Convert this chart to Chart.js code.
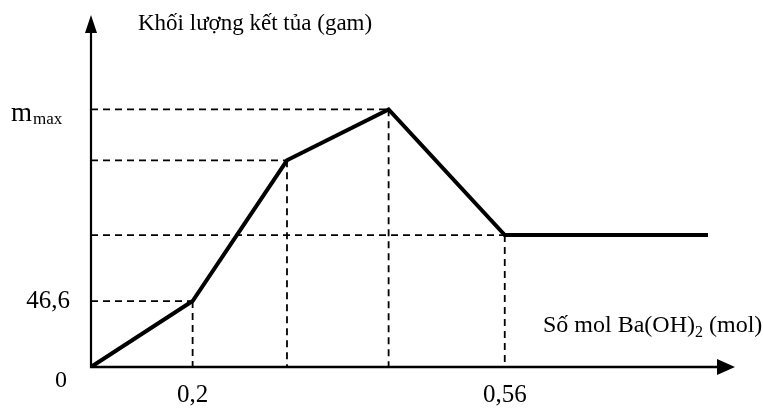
<!DOCTYPE html>
<html>
<head>
<meta charset="utf-8">
<script src="https://cdn.jsdelivr.net/npm/chart.js@4"></script>
<style>
  html, body { margin: 0; padding: 0; background: #fff; }
  canvas { display: block; }
</style>
</head>
<body>
<canvas id="c" width="763" height="409"></canvas>
<script>
// Mass of precipitate (g) at each break point of the curve
const mass = [0, 46.6, 146, 182, 93.2, 93.2];
// Mol Ba(OH)2 label printed under each break point ('' = not labelled)
const molLabels = ['', '0,2', '', '', '0,56', ''];
// Where each break point sits along the (not-to-scale) mol axis
const axisStep = [0, 14, 27, 41, 57, 85];
// Break points that get dashed guide lines to both axes
const guided = [1, 2, 3, 4];

const yTitle = 'Khối lượng kết tủa (gam)';
const xTitle = ['Số mol Ba(OH)', '2', ' (mol)'];
const peakLabel = ['m', 'max'];
const originLabel = '0';
const yTickValues = [46.6];
const yTickLabels = ['46,6'];

const FONT = '"Liberation Serif", "Times New Roman", serif';

const points = mass.map((m, i) => ({ x: axisStep[i], y: m }));
const xTicks = axisStep.filter((_, i) => molLabels[i] !== '');
const xTickText = molLabels.filter(l => l !== '');
const peakIndex = mass.indexOf(Math.max(...mass));

const guides = {
  id: 'guides',
  beforeDatasetsDraw(chart) {
    const { ctx, chartArea } = chart;
    const pts = chart.getDatasetMeta(0).data;
    ctx.save();
    ctx.strokeStyle = '#000';
    ctx.lineWidth = 1.8;
    ctx.setLineDash([7, 5]);
    guided.forEach(i => {
      const p = pts[i];
      ctx.beginPath();
      ctx.moveTo(chartArea.left, p.y);
      ctx.lineTo(p.x, p.y);
      ctx.moveTo(p.x, p.y);
      ctx.lineTo(p.x, chartArea.bottom);
      ctx.stroke();
    });
    ctx.restore();
  }
};

const axesAndText = {
  id: 'axesAndText',
  afterDatasetsDraw(chart) {
    const { ctx, chartArea } = chart;
    const x0 = chartArea.left, y0 = chartArea.bottom;
    ctx.save();
    ctx.fillStyle = '#000';
    ctx.strokeStyle = '#000';
    ctx.setLineDash([]);

    // vertical axis with arrow
    ctx.lineWidth = 2.2;
    ctx.beginPath();
    ctx.moveTo(x0, y0 + 1);
    ctx.lineTo(x0, 31);
    ctx.stroke();
    ctx.beginPath();
    ctx.moveTo(x0, 15);
    ctx.lineTo(x0 - 6, 33);
    ctx.lineTo(x0 + 6, 33);
    ctx.closePath();
    ctx.fill();

    // horizontal axis with arrow
    ctx.lineWidth = 2.6;
    ctx.beginPath();
    ctx.moveTo(x0 - 1, y0);
    ctx.lineTo(720, y0);
    ctx.stroke();
    ctx.beginPath();
    ctx.moveTo(735, y0);
    ctx.lineTo(717, y0 - 8);
    ctx.lineTo(717, y0 + 8);
    ctx.closePath();
    ctx.fill();

    // axis titles
    ctx.textBaseline = 'alphabetic';
    ctx.textAlign = 'left';
    ctx.font = '23px ' + FONT;
    ctx.fillText(yTitle, 138, 30);

    let tx = 543;
    ctx.font = '24px ' + FONT;
    ctx.fillText(xTitle[0], tx, 332);
    tx += ctx.measureText(xTitle[0]).width;
    ctx.font = '16px ' + FONT;
    ctx.fillText(xTitle[1], tx, 337);
    tx += ctx.measureText(xTitle[1]).width;
    ctx.font = '24px ' + FONT;
    ctx.fillText(xTitle[2], tx, 332);

    // peak label m_max
    const py = chart.scales.y.getPixelForValue(mass[peakIndex]);
    ctx.font = '27px ' + FONT;
    ctx.fillText(peakLabel[0], 11, py + 12);
    const mw = ctx.measureText(peakLabel[0]).width;
    ctx.font = '17px ' + FONT;
    ctx.fillText(peakLabel[1], 11 + mw + 1, py + 15);

    // origin label
    ctx.font = '24px ' + FONT;
    ctx.textAlign = 'center';
    ctx.fillText(originLabel, 61, y0 + 20);
    ctx.restore();
  }
};

new Chart(document.getElementById('c'), {
  type: 'line',
  data: {
    datasets: [{
      data: points,
      borderColor: '#000',
      borderWidth: 4,
      borderJoinStyle: 'miter',
      borderCapStyle: 'butt',
      pointRadius: 0,
      tension: 0,
      fill: false
    }]
  },
  options: {
    responsive: false,
    animation: false,
    devicePixelRatio: 1,
    layout: { padding: { top: 40, right: 55, left: 0, bottom: 0 } },
    plugins: { legend: { display: false }, tooltip: { enabled: false } },
    scales: {
      x: {
        type: 'linear',
        min: 0,
        max: axisStep[axisStep.length - 1],
        grid: { display: false, drawTicks: false },
        border: { display: false },
        afterBuildTicks(scale) { scale.ticks = xTicks.map(v => ({ value: v })); },
        afterFit(scale) { scale.height = 42; },
        ticks: {
          autoSkip: false,
          maxRotation: 0,
          padding: 13,
          color: '#000',
          font: { family: FONT, size: 25 },
          callback: (v, i) => xTickText[i]
        }
      },
      y: {
        type: 'linear',
        min: 0,
        max: 231,
        grid: { display: false, drawTicks: false },
        border: { display: false },
        afterBuildTicks(scale) { scale.ticks = yTickValues.map(v => ({ value: v })); },
        afterFit(scale) { scale.width = 91; },
        ticks: {
          padding: 21,
          color: '#000',
          font: { family: FONT, size: 25 },
          callback: (v, i) => yTickLabels[i]
        }
      }
    }
  },
  plugins: [guides, axesAndText]
});
</script>
</body>
</html>
